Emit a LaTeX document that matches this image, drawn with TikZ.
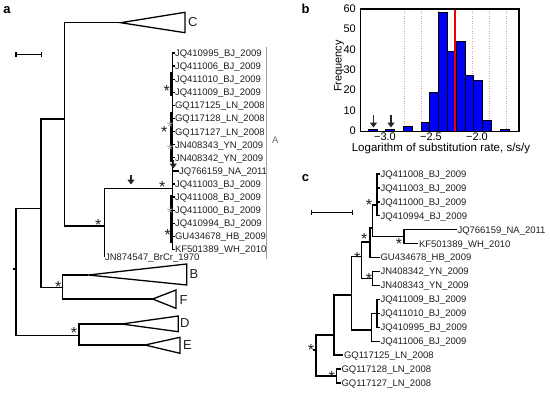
\documentclass[tikz,border=0pt]{standalone}
\usepackage{fontspec}
\setmainfont{Liberation Sans}
\usetikzlibrary{arrows.meta}
\definecolor{txt}{gray}{0.12}
\definecolor{hblue}{RGB}{0,0,245}
\definecolor{dotc}{RGB}{215,165,160}
\definecolor{hred}{RGB}{240,0,0}
\begin{document}
\begin{tikzpicture}[x=1pt,y=-1pt,
  br/.style={draw=black,line width=1.3pt},
  lf/.style={anchor=base west,inner sep=0pt,text=txt,font=\fontsize{9.5}{11}\selectfont,yshift=-3.4pt},
  ast/.style={anchor=north,inner sep=0pt,text=txt,font=\fontsize{16}{16}\selectfont,yshift=2.3pt},
  gast/.style={ast,text=gray!60},
  clab/.style={anchor=west,inner sep=0pt,text=txt,font=\fontsize{13}{13}\selectfont},
  plab/.style={inner sep=0pt,text=black,font=\fontsize{13}{13}\selectfont\bfseries},
  tlab/.style={inner sep=0pt,text=black,font=\fontsize{11}{11}\selectfont},
  hbar/.style={draw=black,line width=0.9pt,fill=hblue},
  dnarrow/.style={line width=1.5pt,draw=black!85,-{Triangle[width=7pt,length=5pt]}},
]
\useasboundingbox (0,0) rectangle (550,392);

% panel labels
\node[plab] (pa) at (7,10.3) {a};
\node[plab] (pb) at (305.5,8.7) {b};
\node[plab] (pc) at (305.5,178.3) {c};

% ================= panel a =================
% scale bar
\draw[br] (16,54.3) -- (41.7,54.3);
\draw[br] (16,51.8) -- (16,56.8);
\draw[br] (41.7,51.8) -- (41.7,56.8);

\coordinate (ar) at (16,269);
\coordinate (a41) at (41,208.3);
\coordinate (a64) at (64.3,119);
\coordinate (aBF) at (62.7,287.3);
\coordinate (aDE) at (79,335.7);
\coordinate (a104) at (104.3,226);
\coordinate (aA) at (172.5,188.3);
\coordinate (aC) at (120.7,22.7);
\coordinate (aB) at (88.3,275);
\coordinate (aF) at (152.7,299);
\coordinate (aD) at (121.7,324);
\coordinate (aE) at (145,345);
\coordinate (aJN) at (104.3,256.7);
\coordinate (astub) at (13,269);

\draw[br] (astub) -- (ar);
\draw[br] (ar) |- (a41);
\draw[br] (ar) |- (aDE);
\draw[br] (a41) |- (a64);
\draw[br] (a41) |- (aBF);
\draw[br] (a64) |- (aC);
\draw[br] (a64) |- (a104);
\draw[br] (a104) |- (aA);
\draw[br] (a104) -- (aJN);
\draw[br] (aBF) |- (aB);
\draw[br] (aBF) |- (aF);
\draw[br] (aDE) |- (aD);
\draw[br] (aDE) |- (aE);

% collapsed clades
\draw[br,line join=miter] (aC) -- (185,12.3) -- (185,32.7) -- cycle;
\draw[br,line join=miter] (aB) -- (186.7,264) -- (186.7,285) -- cycle;
\draw[br,line join=miter] (aF) -- (176,290) -- (176,308.3) -- cycle;
\draw[br,line join=miter] (aD) -- (178.3,316) -- (178.3,331.7) -- cycle;
\draw[br,line join=miter] (aE) -- (180,337.3) -- (180,353.3) -- cycle;
\node[clab] (tC) at (188,22) {C};
\node[clab] (tB) at (189.5,274) {B};
\node[clab] (tF) at (179.5,300) {F};
\node[clab] (tD) at (180,323.3) {D};
\node[clab] (tE) at (183,345) {E};

% clade A leaves
\foreach \i/\x/\t in {0/174.5/JQ410995\_BJ\_2009,1/174.5/JQ411006\_BJ\_2009,2/174.5/JQ411010\_BJ\_2009,
  3/174.5/JQ411009\_BJ\_2009,4/174.5/GQ117125\_LN\_2008,5/174.5/GQ117128\_LN\_2008,6/174.5/GQ117127\_LN\_2008,
  7/174.5/JN408343\_YN\_2009,8/174.5/JN408342\_YN\_2009,9/178.5/JQ766159\_NA\_2011,10/174.5/JQ411003\_BJ\_2009,
  11/174.5/JQ411008\_BJ\_2009,12/174.5/JQ411000\_BJ\_2009,13/174.5/JQ410994\_BJ\_2009,14/174.5/GU434678\_HB\_2009,
  15/174.5/KF501389\_WH\_2010}{
  \coordinate (aT\i) at (\x,{53+13.1*\i});
  \draw[br] (aA) |- (aT\i);
  \node[lf] (aL\i) at ([xshift=0.3pt]aT\i) {\t};
}
\draw[br] (171,72) -- (171,96);
\draw[br] (171,112) -- (171,162);
\draw[br] (171,195) -- (171,243);
\node[lf] (aLJN) at (104.8,257.3) {JN874547\_BrCr\_1970};

% clade A bracket
\draw[gray!75,line width=0.8pt] (266.7,46.7) -- (266.7,259);
\node[anchor=west,inner sep=0pt,text=gray!85!black,font=\fontsize{9.5}{10}\selectfont] (tA) at (272,140) {A};

% stars panel a
\foreach \x/\y in {166.7/87.7,164.3/128.3,162.3/184,167.7/231.7,98.3/221.7,58.3/283.3,74/330}
  \node[ast] at (\x,\y) {*};
\foreach \x/\y in {170/123.3,170/146.7,170/210}
  \node[gast] at (\x,\y) {*};

% arrow markers panel a
\draw[dnarrow] (131,175) -- (131,184.5);
\draw[dnarrow] (173.3,160) -- (173.3,168.5);

% ================= panel b =================
\foreach \x in {404,421,438,472,489,506}
  \draw[dotc,line width=0.5pt,dash pattern=on 1pt off 1.5pt] (\x,8.3) -- (\x,131);
\foreach \i/\h in {0/1,2/1,4/2,6/4,7/19,8/58,9/39,10/44,11/27,12/25,13/5,15/1}
  \draw[hbar] ({368.3+8.8*\i},131) rectangle ({368.3+8.8*(\i+1)},{131-2.0417*\h});
\fill[hred] (454.3,8.3) rectangle (456.3,131);
\node[draw=black,line width=1.2pt,minimum width=158.3pt,minimum height=122.7pt,inner sep=0pt,anchor=north west] (hax) at (360,8.3) {};
\foreach \v in {0,10,20,30,40,50,60}
  \node[tlab,anchor=east] at (356,{131-2.0417*\v}) {\v};
\node[tlab] (xt1) at (385,136.3) {−3.0};
\node[tlab] (xt2) at (431,136.3) {−2.5};
\node[tlab] (xt3) at (477,136.3) {−2.0};
\node[tlab,rotate=90] (ylab) at (339,66) {Frequency};
\node[tlab,anchor=base,font=\fontsize{11.5}{12}\selectfont] (xlab) at (441,151.5) {Logarithm of substitution rate, s/s/y};
\draw[dnarrow] (373.5,115) -- (373.5,127.5);
\draw[dnarrow] (391,115) -- (391,127.5);

% ================= panel c =================
\draw[br] (311.7,212.7) -- (352.7,212.7);
\draw[br] (311.7,210.2) -- (311.7,215.2);
\draw[br] (352.7,210.2) -- (352.7,215.2);

\coordinate (cr) at (316,350);
\coordinate (cstub) at (313,350);
\coordinate (c7) at (334,335);
\coordinate (cP) at (336.5,376);
\coordinate (c6) at (351.7,295);
\coordinate (c5) at (361.7,256.7);
\coordinate (c8) at (371.7,330);
\coordinate (c4) at (370,242);
\coordinate (cJ) at (372.7,278.5);
\coordinate (c2) at (372.7,228);
\coordinate (c1) at (377,205);
\coordinate (c3) at (404,236.7);
\coordinate (c9) at (377,313.3);

\draw[br] (cstub) -- (cr);
\draw[br] (cr) |- (c7);
\draw[br] (cr) |- (cP);
\draw[br] (c7) |- (c6);
\draw[br] (c6) |- (c5);
\draw[br] (c6) |- (c8);
\draw[br] (c5) |- (c4);
\draw[br] (c5) |- (cJ);
\draw[br] (c4) |- (c2);
\draw[br] (c2) |- (c1);
\draw[br] (c2) |- (c3);
\draw[br] (c8) |- (c9);

\foreach \i/\x/\p/\t in {0/379.5/c1/JQ411008\_BJ\_2009,1/379.5/c1/JQ411003\_BJ\_2009,2/379.5/c1/JQ411000\_BJ\_2009,
  3/379.5/c1/JQ410994\_BJ\_2009,4/456.5/c3/JQ766159\_NA\_2011,5/418/c3/KF501389\_WH\_2010,6/379.5/c4/GU434678\_HB\_2009,
  7/379.5/cJ/JN408342\_YN\_2009,8/379.5/cJ/JN408343\_YN\_2009,9/379.5/c9/JQ411009\_BJ\_2009,10/379.5/c9/JQ411010\_BJ\_2009,
  11/379.5/c9/JQ410995\_BJ\_2009,12/379.5/c8/JQ411006\_BJ\_2009,13/343/c7/GQ117125\_LN\_2008,14/340.5/cP/GQ117128\_LN\_2008,
  15/340.5/cP/GQ117127\_LN\_2008}{
  \coordinate (cT\i) at (\x,{174+13.93*\i});
  \draw[br] (\p) |- (cT\i);
  \node[lf] (cL\i) at ([xshift=0.8pt]cT\i) {\t};
}

\foreach \x/\y in {369/202,399/241,364.3/236,357.3/254.3,369/275.5,311/347,331.7/373.5}
  \node[ast] at (\x,\y) {*};

\end{tikzpicture}
\end{document}
